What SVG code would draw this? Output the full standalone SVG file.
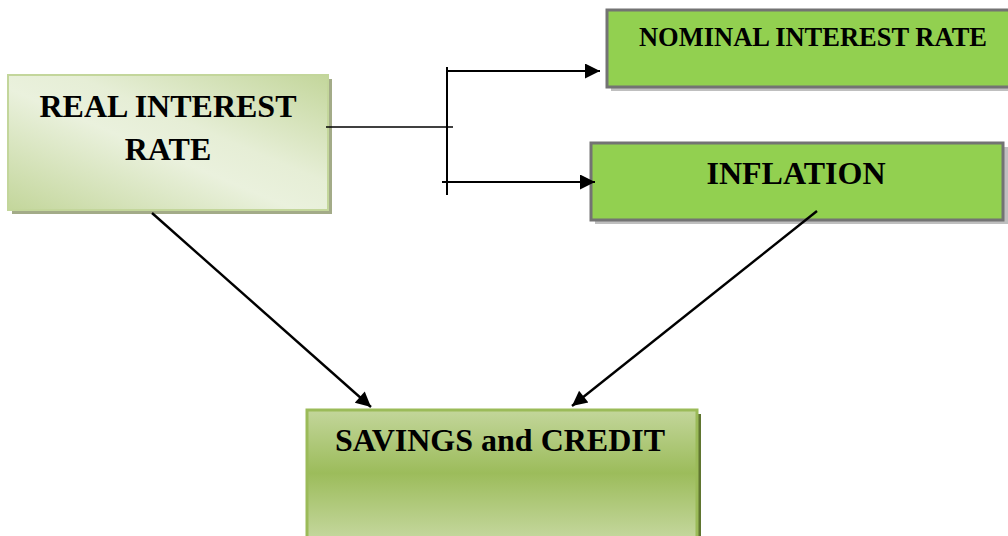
<svg xmlns="http://www.w3.org/2000/svg" width="1008" height="536" viewBox="0 0 1008 536">
<defs>
<linearGradient id="gReal" x1="0" y1="1" x2="1" y2="0">
<stop offset="0" stop-color="#c3d69b"/>
<stop offset="0.45" stop-color="#eaf1dd"/>
<stop offset="0.6" stop-color="#e6eed6"/>
<stop offset="1" stop-color="#c3d69b"/>
</linearGradient>
<linearGradient id="gSav" gradientUnits="userSpaceOnUse" x1="0" y1="410" x2="0" y2="536">
<stop offset="0" stop-color="#c3d69b"/>
<stop offset="0.5" stop-color="#9cbc5b"/>
<stop offset="1" stop-color="#c3d69b"/>
</linearGradient>
<marker id="ah2" viewBox="0 0 10 10" refX="10" refY="5" markerWidth="18" markerHeight="15" markerUnits="userSpaceOnUse" orient="auto">
<path d="M0,0 L10,5 L0,10 z" fill="#000"/>
</marker>
</defs>
<style>
text{font-family:"Liberation Serif","Times New Roman",serif;font-weight:bold;fill:#000;text-anchor:middle}
.conn{stroke:#000;fill:none}
</style>
<rect width="1008" height="536" fill="#fff"/>
<g id="real">
<rect x="12" y="79" width="320" height="135" fill="#a3ab88"/>
<rect x="8" y="75" width="320" height="135" fill="url(#gReal)" stroke="#c3d69b" stroke-width="2"/>
<text x="168" y="117" font-size="32">REAL INTEREST</text>
<text x="168" y="160" font-size="32">RATE</text>
</g>
<g id="nominal">
<rect x="611" y="14" width="410" height="77" fill="#bfbfbf"/>
<rect x="607" y="10" width="410" height="77" fill="#92d050" stroke="#737373" stroke-width="3"/>
<text x="813" y="46" font-size="26.5">NOMINAL INTEREST RATE</text>
</g>
<g id="inflation">
<rect x="595" y="147" width="413" height="77" fill="#bfbfbf"/>
<rect x="591" y="143" width="412" height="77" fill="#92d050" stroke="#737373" stroke-width="3"/>
<text x="796" y="184" font-size="32">INFLATION</text>
</g>
<g id="savings">
<rect x="311" y="414" width="390" height="140" fill="#5f7530"/>
<rect x="307" y="410" width="390" height="140" fill="url(#gSav)" stroke="#9bbb59" stroke-width="3"/>
<text x="500" y="451" font-size="32">SAVINGS and CREDIT</text>
</g>
<g id="connectors">
<path class="conn" d="M326,127 H453" stroke-width="1.5"/>
<path class="conn" d="M447,67 V195" stroke-width="2"/>
<path class="conn" d="M447,71 H600" stroke-width="2.2" marker-end="url(#ah2)"/>
<path class="conn" d="M442,182 H595" stroke-width="2.2" marker-end="url(#ah2)"/>
<path class="conn" d="M152,213 L371,407" stroke-width="2.4" marker-end="url(#ah2)"/>
<path class="conn" d="M817,211 L572,406" stroke-width="2.4" marker-end="url(#ah2)"/>
</g>
</svg>
